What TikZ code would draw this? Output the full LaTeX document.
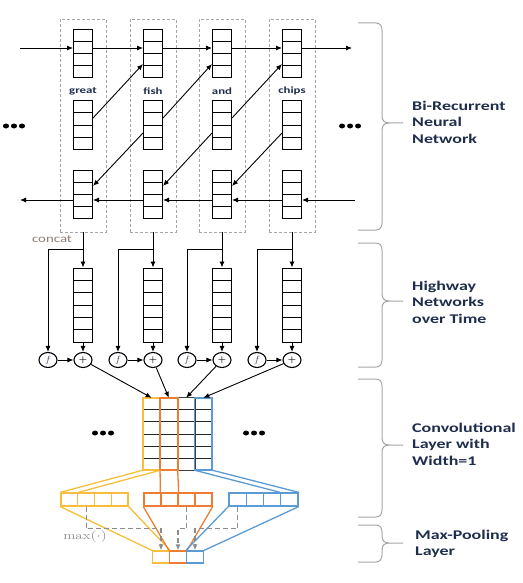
\documentclass[tikz,border=0pt]{standalone}
\usepackage{fontspec}
\usetikzlibrary{arrows.meta,shapes.geometric,calc}
\newfontfamily\labfont[FakeStretch=1.35]{Carlito}
\definecolor{ycol}{HTML}{F6BE3C}
\definecolor{ocol}{HTML}{ED7D31}
\definecolor{bcol}{HTML}{5B9BD5}
\definecolor{navy}{HTML}{1F2D4D}
\definecolor{concatc}{HTML}{8C7F78}
\definecolor{dgray}{HTML}{8C8C8C}
\definecolor{bracec}{HTML}{A6A6A6}
\newcommand\mybrace[3]{%
\draw[bracestyle] (358,#1) -- (376,#1) .. controls (380,#1) and (382,#1+3) .. (382,#1+7) -- (382,#2-7) .. controls (382,#2-2) and (385,#2) .. (389,#2) -- (403,#2);
\draw[bracestyle] (389,#2) .. controls (385,#2) and (382,#2+2) .. (382,#2+7) -- (382,#3-7) .. controls (382,#3-3) and (380,#3) .. (376,#3) -- (358,#3);}
\begin{document}
\begin{tikzpicture}[x=1pt,y=-1pt,
  cell/.style={draw=black,line width=1pt,fill=white,minimum width=19pt,inner sep=0pt},
  stackfour/.style={path picture={\foreach \f in {0.25,0.5,0.75}
     \draw[line width=1pt] ($(path picture bounding box.north west)!\f!(path picture bounding box.south west)$) -- ($(path picture bounding box.north east)!\f!(path picture bounding box.south east)$);}},
  stacksix/.style={path picture={\foreach \f in {1,...,5}
     \draw[line width=1pt] ($(path picture bounding box.north west)!\f/6!(path picture bounding box.south west)$) -- ($(path picture bounding box.north east)!\f/6!(path picture bounding box.south east)$);}},
  arr/.style={-{Latex[length=6pt,width=5pt]},line width=0.9pt},
  colbox/.style={draw=gray!70,dash pattern=on 3pt off 2pt,line width=0.8pt,minimum width=46pt,minimum height=213pt,inner sep=0pt},
  gate/.style={ellipse,draw=black,line width=1.1pt,minimum width=18pt,minimum height=15pt,inner sep=0pt,fill=white,font=\small},
  wordstyle/.style={font=\labfont\bfseries\fontsize{9.5}{10}\selectfont,text=navy,inner sep=0pt},
  labtext/.style={font=\labfont\bfseries\fontsize{13.3}{16.5}\selectfont,text=navy,align=left,inner sep=0pt,anchor=west},
  gcol/.style={minimum width=17.25pt,minimum height=72pt,inner sep=0pt},
  pcell/.style={minimum width=#1,minimum height=13pt,inner sep=0pt,line width=1.3pt},
  ocell/.style={minimum width=17pt,minimum height=12pt,inner sep=0pt,line width=1.3pt},
  bracestyle/.style={draw=bracec,line width=1pt},
  maxarr/.style={draw=dgray,dash pattern=on 5pt off 3pt,line width=1.1pt,-{Latex[length=6pt,width=5pt]}},
  dots/.style={fill=black}
]
\useasboundingbox (0,0) rectangle (522,583);

% ---------- Bi-recurrent part ----------
\foreach \x [count=\i] in {83,153,222,292} {
  \node[colbox] (col\i) at (\x,125.5) {};
  \node[cell,stackfour,minimum height=48pt] (t\i) at (\x,54) {};
  \node[cell,stackfour,minimum height=48pt] (m\i) at (\x,125) {};
  \node[cell,stackfour,minimum height=48pt] (b\i) at (\x,194) {};
  \node[cell,stacksix,minimum height=74pt] (h\i) at (\x,305) {};
  \node[gate] (p\i) at (\x,360) {\textbf{+}};
  \node[gate] (f\i) at (\x-35,360) {\textcolor{navy}{$f$}};
  \coordinate (br\i) at (\x,249);
}
\foreach \w/\x/\i in {great/83/1,fish/153/2,and/222/3,chips/292/4}
  \node[wordstyle] (w\i) at (\x,91) {\w};

\coordinate (fin) at (20,48);
\coordinate (fout) at (352,48);
\coordinate (bin) at (355,200);
\coordinate (bout) at (20,200);

\draw[arr] (fin) -- ([yshift=6pt]t1.west);
\foreach \i/\j in {1/2,2/3,3/4} {
  \draw[arr] ([yshift=6pt]t\i.east) -- ([yshift=6pt]t\j.west);
  \draw[arr] ([yshift=7pt]m\i.east) -- ([yshift=-10pt]t\j.west);
  \draw[arr] ([yshift=-8pt]m\j.west) -- ([yshift=8pt]b\i.east);
  \draw[arr] ([yshift=-6pt]b\j.west) -- ([yshift=-6pt]b\i.east);
}
\draw[arr] ([yshift=6pt]t4.east) -- (fout);
\draw[arr] (bin) -- ([yshift=-6pt]b4.east);
\draw[arr] ([yshift=-6pt]b1.west) -- (bout);

% dots
\foreach \x in {6,14,22,342,350,358} \fill[dots] (\x,126) ellipse (3pt and 2.5pt);

% ---------- Highway part ----------
\node[font=\labfont\fontsize{11}{12}\selectfont,text=concatc,inner sep=0pt] (concat) at (52,239) {concat};
\foreach \i in {1,...,4} {
  \draw[arr] (col\i.south) -- (h\i.north);
  \draw[arr] (br\i) -| (f\i.north);
  \draw[arr] (h\i) -- (p\i);
  \draw[arr] (f\i) -- (p\i);
}

% ---------- Convolution grid ----------
\node[minimum width=69pt,minimum height=72pt,inner sep=0pt] (g) at (177.5,434) {};
\node[gcol] (gc1) at (151.625,434) {};
\node[gcol] (gc2) at (168.875,434) {};
\node[gcol] (gc3) at (186.125,434) {};
\node[gcol] (gc4) at (203.375,434) {};
\foreach \f in {1,...,5}
  \draw[line width=0.9pt,black!85] ($(g.north west)!\f/6!(g.south west)$) -- ($(g.north east)!\f/6!(g.south east)$);
\draw[line width=0.9pt,black!75] (gc3.north west) rectangle (gc3.south east);
\draw[line width=1.8pt,ycol] (gc1.north west) rectangle (gc1.south east);
\draw[line width=1.8pt,bcol] (gc4.north west) rectangle (gc4.south east);
\draw[line width=1.8pt,ocol] (gc2.north west) rectangle (gc2.south east);
\foreach \i in {1,...,4}
  \draw[arr] (p\i) -- (gc\i.north);
\foreach \x in {95,103,111,246,254,262} \fill[dots] (\x,433) ellipse (3pt and 2.5pt);

% ---------- pooling rows ----------
\foreach \x [count=\i] in {69.4,86.1,102.9,119.6}
  \node[pcell=16.75pt,draw=ycol] (py\i) at (\x,499.5) {};
\foreach \x [count=\i] in {152.5,169.5,186.5,203.5}
  \node[pcell=17pt,draw=ocol] (po\i) at (\x,499.5) {};
\foreach \x [count=\i] in {237.6,254.9,272.1,289.4}
  \node[pcell=17.25pt,draw=bcol] (pb\i) at (\x,499.5) {};
\node[ocell,draw=ycol] (o1) at (161,557) {};
\node[ocell,draw=ocol] (o2) at (178,557) {};
\node[ocell,draw=bcol] (o3) at (195,557) {};

\draw[ycol,line width=1.3pt] (gc1.south west) -- (py1.north west);
\draw[ycol,line width=1.3pt] (gc1.south east) -- (py1.north east);
\draw[ocol,line width=1.3pt] (gc2.south west) -- (po2.north west);
\draw[ocol,line width=1.3pt] (gc2.south east) -- (po2.north east);
\draw[bcol,line width=1.3pt] (gc4.south west) -- (pb4.north west);
\draw[bcol,line width=1.3pt] (gc4.south east) -- (pb4.north east);

\draw[ycol,line width=1.3pt] (py1.south west) -- (o1.north west);
\draw[ycol,line width=1.3pt] (py4.south east) -- (o1.north east);
\draw[ocol,line width=1.3pt] (po1.south west) -- (o2.north west);
\draw[ocol,line width=1.3pt] (po4.south east) -- (o2.north east);
\draw[bcol,line width=1.3pt] (pb1.south west) -- (o3.north west);
\draw[bcol,line width=1.3pt] (pb4.south east) -- (o3.north east);

\draw[maxarr] (py2.south) -- ++(0,22) -| (o1.north);
\draw[maxarr] (po3.south) -- ++(0,22) -| (o2.north);
\draw[maxarr] (pb1.south) -- ++(0,22) -| (o3.north);
\node[text=dgray,inner sep=0pt,font=\fontsize{11.5}{12}\selectfont] (maxlab) at (85,536) {\scalebox{1.3}[1]{$\max(\cdot)$}};

% ---------- braces and labels ----------
\mybrace{23}{123}{230}
\mybrace{243}{301}{367}
\mybrace{379}{445}{517}
\mybrace{525}{543}{562}
\node[labtext] (lab1) at (412,122) {Bi-Recurrent\\Neural\\Network};
\node[labtext] (lab2) at (412,302) {Highway\\Networks\\over Time};
\node[labtext] (lab3) at (412,444) {Convolutional\\Layer with\\Width=1};
\node[labtext] (lab4) at (415,544) {Max-Pooling\\Layer};
\end{tikzpicture}
\end{document}
